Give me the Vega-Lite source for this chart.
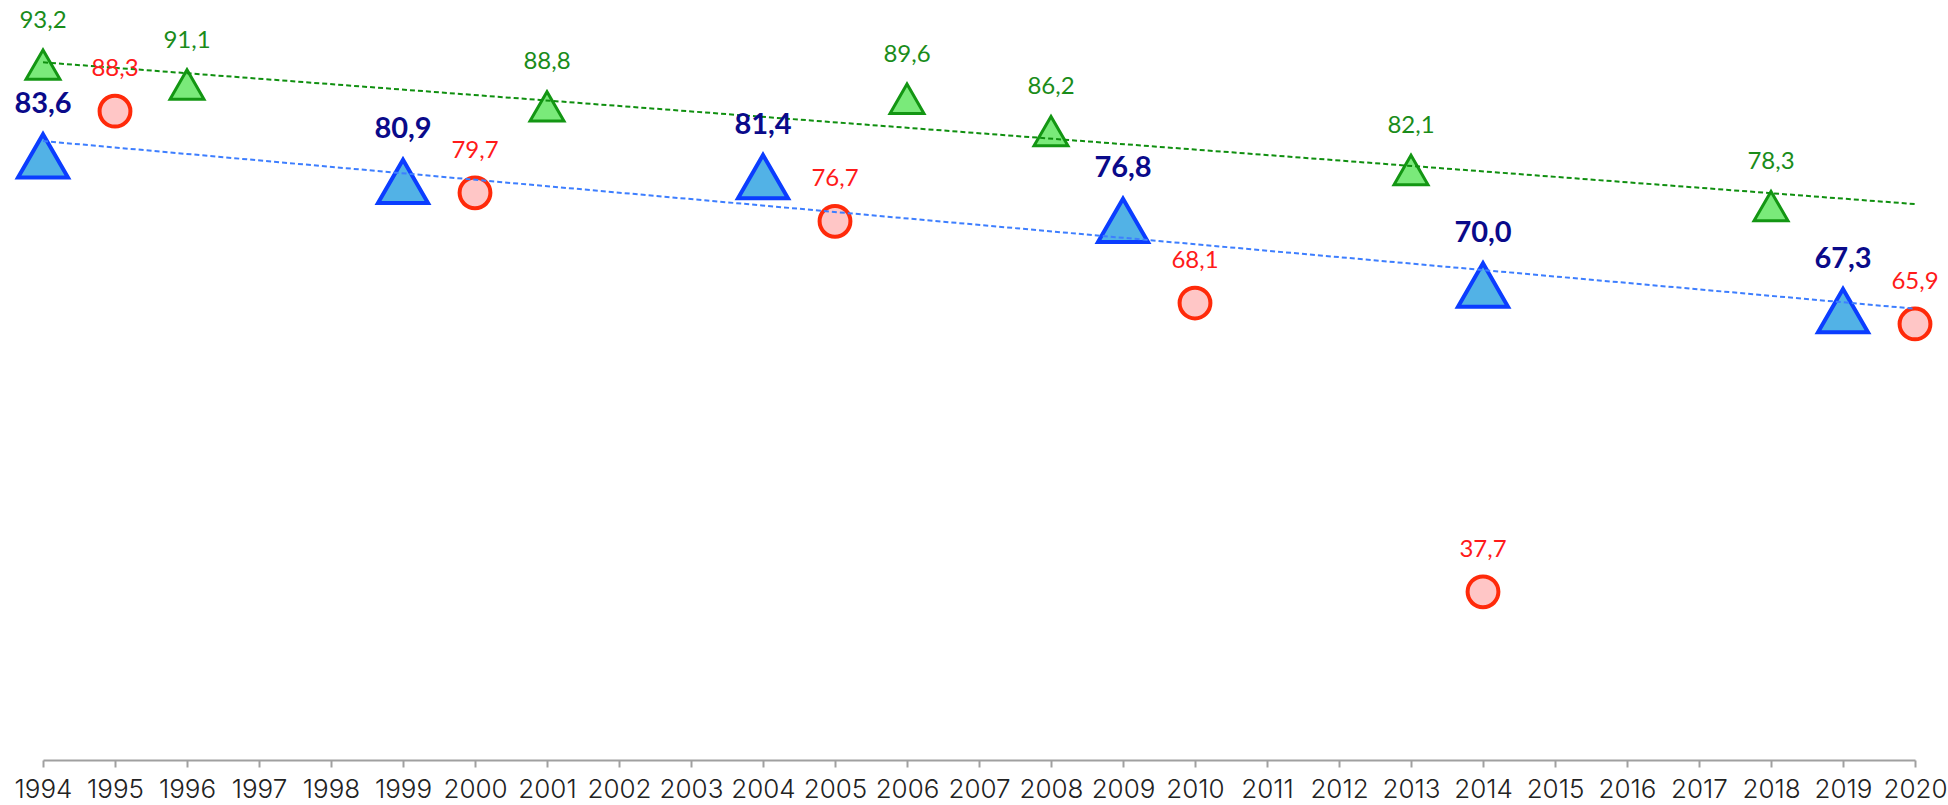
{
  "$schema": "https://vega.github.io/schema/vega-lite/v6.json",
  "width": 1872,
  "height": 760,
  "autosize": {"type": "none"},
  "padding": {"left": 43, "right": 33, "top": 0, "bottom": 45},
  "background": "white",
  "config": {
    "view": {"stroke": null},
    "locale": {"number": {"decimal": ",", "thousands": ".", "grouping": [3], "currency": ["", " €"]}}
  },
  "datasets": {
    "green": [
      {"year": 1994, "value": 93.2},
      {"year": 1996, "value": 91.1},
      {"year": 2001, "value": 88.8},
      {"year": 2006, "value": 89.6},
      {"year": 2008, "value": 86.2},
      {"year": 2013, "value": 82.1},
      {"year": 2018, "value": 78.3}
    ],
    "blue": [
      {"year": 1994, "value": 83.6},
      {"year": 1999, "value": 80.9},
      {"year": 2004, "value": 81.4},
      {"year": 2009, "value": 76.8},
      {"year": 2014, "value": 70.0},
      {"year": 2019, "value": 67.3}
    ],
    "red": [
      {"year": 1995, "value": 88.3},
      {"year": 2000, "value": 79.7},
      {"year": 2005, "value": 76.7},
      {"year": 2010, "value": 68.1},
      {"year": 2014, "value": 37.7},
      {"year": 2020, "value": 65.9}
    ]
  },
  "encoding": {
    "x": {
      "field": "year", "type": "quantitative",
      "scale": {"domain": [1994, 2020], "nice": false, "zero": false},
      "axis": {
        "title": null, "grid": false, "format": "d",
        "values": [1994,1995,1996,1997,1998,1999,2000,2001,2002,2003,2004,2005,2006,2007,2008,2009,2010,2011,2012,2013,2014,2015,2016,2017,2018,2019,2020],
        "domainColor": "#a0a0a0", "domainWidth": 2,
        "tickColor": "#a0a0a0", "tickWidth": 2, "tickSize": 7,
        "labelFont": "Inter", "labelFontWeight": 300, "labelFontSize": 26,
        "labelColor": "#222222", "labelPadding": 9, "labelFlush": false, "labelOverlap": false
      }
    },
    "y": {
      "field": "value", "type": "quantitative",
      "scale": {"domain": [20, 100], "nice": false, "zero": false},
      "axis": null
    }
  },
  "layer": [
    {
      "data": {"name": "green"},
      "mark": {"type": "point", "shape": "triangle-up", "filled": true, "size": 1150, "fill": "#7aea7a", "stroke": "#139613", "strokeWidth": 3, "opacity": 1, "strokeJoin": "miter"}
    },
    {
      "data": {"name": "blue"},
      "mark": {"type": "point", "shape": "triangle-up", "filled": true, "size": 2500, "fill": "#52b2e6", "stroke": "#0b3dff", "strokeWidth": 4, "opacity": 1, "strokeJoin": "miter"}
    },
    {
      "data": {"name": "red"},
      "mark": {"type": "point", "shape": "circle", "filled": true, "size": 950, "fill": "#ffc6c6", "stroke": "#ff2a0a", "strokeWidth": 4, "opacity": 1}
    },
    {
      "data": {"name": "green"},
      "transform": [{"regression": "value", "on": "year", "extent": [1994, 2020]}],
      "mark": {"type": "line", "color": "#0f8f0f", "strokeWidth": 2, "strokeDash": [5, 3]}
    },
    {
      "data": {"name": "blue"},
      "transform": [{"regression": "value", "on": "year", "extent": [1994, 2020]}],
      "mark": {"type": "line", "color": "#3d7eff", "strokeWidth": 2, "strokeDash": [5, 3]}
    },
    {
      "data": {"name": "green"},
      "mark": {"type": "text", "font": "Lato", "fontSize": 24, "color": "#1a8c1a", "baseline": "middle", "align": "center", "dy": -44},
      "encoding": {"text": {"field": "value", "type": "quantitative", "format": ".1f"}}
    },
    {
      "data": {"name": "blue"},
      "mark": {"type": "text", "font": "Lato", "fontSize": 29, "fontWeight": "bold", "color": "#0a0a8a", "baseline": "middle", "align": "center", "dy": -52},
      "encoding": {"text": {"field": "value", "type": "quantitative", "format": ".1f"}}
    },
    {
      "data": {"name": "red"},
      "mark": {"type": "text", "font": "Lato", "fontSize": 24, "color": "#ff1a1a", "baseline": "middle", "align": "center", "dy": -42},
      "encoding": {"text": {"field": "value", "type": "quantitative", "format": ".1f"}}
    }
  ]
}
